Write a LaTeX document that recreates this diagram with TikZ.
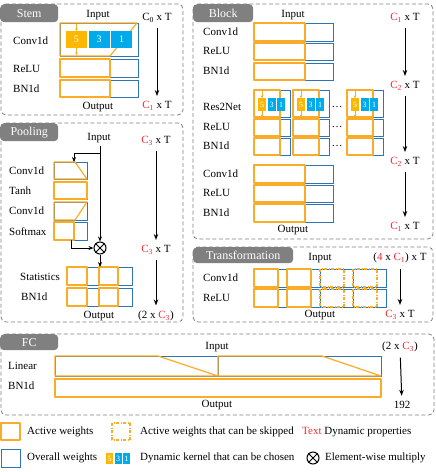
\documentclass[tikz,border=0pt]{standalone}
\usepackage{fontspec}
\setmainfont{Liberation Serif}
\usepackage{tikz}
\usetikzlibrary{positioning,arrows.meta}
\definecolor{actorange}{RGB}{250,172,40}
\definecolor{kgold}{RGB}{252,184,0}
\definecolor{ovrblue}{RGB}{46,117,182}
\definecolor{kblue}{RGB}{0,170,235}
\definecolor{tabgray}{RGB}{128,128,128}
\definecolor{dynred}{RGB}{240,40,50}
\newcommand{\dyn}[1]{\textcolor{dynred}{#1}}
\newcommand{\Cd}[1]{\dyn{C\textsubscript{#1}}}
\newcommand{\wrow}[5]{\draw[ovr] (#1,#2) rectangle (#4,#5); \draw[act] (#1,#2) rectangle (#3,#5);}
\newcommand{\srow}[5]{\draw[ovr] (#1,#2) rectangle (#4,#5); \draw[skip] (#1,#2) rectangle (#3,#5);}
\newcommand{\kset}[6]{%
\node[kbox,fill=kgold,minimum width=#4,minimum height=#5,font=#6,anchor=north west] (#1-5) at (#2,#3) {5};
\node[kbox,fill=kblue,minimum width=#4,minimum height=#5,font=#6,right=1.5pt of #1-5] (#1-3) {3};
\node[kbox,fill=kblue,minimum width=#4,minimum height=#5,font=#6,right=1.5pt of #1-3] (#1-1) {1};}

\begin{document}
\begin{tikzpicture}[x=1pt,y=-1pt,font=\fontsize{11}{13}\selectfont,
panel/.style={draw=tabgray,line width=0.8pt,dash pattern=on 4pt off 2.5pt,rounded corners=5pt},
tab/.style={fill=tabgray,rounded corners=4pt,text=white,inner sep=0pt,anchor=north west,font=\fontsize{12}{12}\selectfont},
lbl/.style={anchor=west,inner sep=0pt},
act/.style={draw=actorange,line width=1.2pt,line join=round},
skip/.style={act,dash pattern=on 3pt off 1.5pt on 1pt off 1.5pt},
ovr/.style={draw=ovrblue,line width=1pt},
kbox/.style={inner sep=0pt,outer sep=0pt,text=white},
karr/.style={draw=actorange,line width=0.8pt,-{Stealth[length=2.5pt,width=2.5pt]}},
dim/.style={line width=1pt,-{Stealth[length=6pt,width=4.5pt]},shorten <=2pt,shorten >=2pt},
flow/.style={line width=0.9pt,-{Stealth[length=5pt,width=4pt]}},
otimes/.style={draw,circle,line width=1pt,minimum size=12pt,inner sep=0pt}]
\useasboundingbox (0,0) rectangle (436,472);

% Stem
\draw[panel] (1,4) rectangle (183,115);
\node[tab,minimum width=58pt,minimum height=18pt] (stemtab) at (0,4) {Stem};
\node (stemin) at (98,15) {Input};
\node (stemout) at (98,107) {Output};
\node[lbl] (stemconv) at (13,41) {Conv1d};
\node[lbl] (stemrelu) at (13,69) {ReLU};
\node[lbl] (stembn) at (13,89) {BN1d};
\draw[ovr] (60,23) rectangle (138,56);
\draw[act] (60,23) -- (137,23) -- (110,56) -- (60,56) -- cycle;
\kset{sk}{66}{31}{21pt}{17pt}{\fontsize{10}{10}\selectfont}
\coordinate (sktop) at (76.5,24);
\coordinate (skbot) at (76.5,55);
\draw[karr] (sktop) -- (sk-5);
\draw[karr] (sk-5) -- (skbot);
\wrow{60}{59}{110}{138}{77}
\wrow{60}{80}{110}{138}{97}
\node (stemc0) at (157,18) {C\textsubscript{0} x T};
\node (stemc1) at (157,106) {\Cd{1} x T};
\draw[dim] (stemc0) -- (stemc1);

% Block
\draw[panel] (193,4) rectangle (433,239);
\node[tab,minimum width=60pt,minimum height=18pt] (blocktab) at (193,4) {Block};
\node (blockin) at (293,15) {Input};
\node (blockout) at (293,230) {Output};
\node[lbl] (bconva) at (203,32) {Conv1d};
\node[lbl] (brelua) at (203,51) {ReLU};
\node[lbl] (bbna) at (203,71) {BN1d};
\node[lbl] (bres) at (203,107) {Res2Net};
\node[lbl] (breslu) at (203,127) {ReLU};
\node[lbl] (bresbn) at (203,146) {BN1d};
\node[lbl] (bconvb) at (203,174) {Conv1d};
\node[lbl] (brelub) at (203,193) {ReLU};
\node[lbl] (bbnb) at (203,213) {BN1d};
\wrow{254}{23}{305}{333}{41}
\wrow{254}{43}{305}{333}{60}
\wrow{254}{63}{305}{333}{80}
\foreach \gx/\gn in {254/ra,293/rb,347/rc}{
\wrow{\gx}{90}{\gx+26}{\gx+36}{117}
\wrow{\gx}{119}{\gx+26}{\gx+36}{136}
\wrow{\gx}{138}{\gx+26}{\gx+36}{155}
\kset{\gn}{\gx+4}{98}{8pt}{13pt}{\fontsize{8}{8}\selectfont}
\coordinate (\gn t) at (\gx+8,91);
\coordinate (\gn b) at (\gx+8,117);
\draw[karr] (\gn t) -- (\gn-5);
\draw[karr] (\gn-5) -- (\gn b);
}
\foreach \dy/\dn in {107/da,127/db,146/dc}
\node (\dn) at (337,\dy) {\dots};
\wrow{254}{165}{305}{333}{183}
\wrow{254}{185}{305}{333}{202}
\wrow{254}{204}{305}{333}{222}
\node (bc1a) at (405,18) {\Cd{1} x T};
\node (bc2a) at (405,86) {\Cd{2} x T};
\node (bc2b) at (405,162) {\Cd{2} x T};
\node (bc1b) at (405,227) {\Cd{1} x T};
\draw[dim] (bc1a) -- (bc2a);
\draw[dim] (bc2a) -- (bc2b);
\draw[dim] (bc2b) -- (bc1b);

% Pooling
\draw[panel] (1,123) rectangle (183,322);
\node[tab,minimum width=58pt,minimum height=18pt] (pooltab) at (0,123) {Pooling};
\node (poolin) at (99,138) {Input};
\node (poolout) at (99,316) {Output};
\node[lbl] (pconva) at (9,171) {Conv1d};
\node[lbl] (ptanh) at (9,191) {Tanh};
\node[lbl] (pconvb) at (9,211) {Conv1d};
\node[lbl] (psoft) at (9,232) {Softmax};
\node[lbl] (pstat) at (20,277) {Statistics};
\node[lbl] (pbn) at (21,297) {BN1d};
\draw[ovr] (54,162) rectangle (87,179);
\draw[act] (54,162) -- (75,162) -- (87,179) -- (54,179) -- cycle;
\wrow{54}{182}{87}{87}{199}
\draw[ovr] (54,202) rectangle (87,220);
\draw[act] (54,202) -- (87,202) -- (75,220) -- (54,220) -- cycle;
\wrow{54}{222}{74}{87}{240}
\wrow{67}{267}{87}{99}{285}
\wrow{99}{267}{118}{132}{285}
\wrow{67}{288}{87}{99}{306}
\wrow{99}{288}{118}{132}{306}
\node[otimes] (ot) at (100,248) {};
\draw[line width=0.9pt] (ot.north west) -- (ot.south east) (ot.north east) -- (ot.south west);
\coordinate (pbr) at (100,153);
\coordinate (pc1) at (74,162);
\coordinate (psm) at (71,240);
\coordinate (pst) at (100,267);
\draw[flow] (ot.north |- poolin.south) -- (ot.north);
\draw[flow] (pbr) -| (pc1);
\draw[flow] (psm) |- (ot.west);
\draw[flow] (ot.south) -- (pst);
\node (pc3a) at (156,141) {\Cd{3} x T};
\node (pc3b) at (156,250) {\Cd{3} x T};
\node (pc23) at (156,316) {(2 x \Cd{3})};
\draw[dim] (pc3a) -- (pc3b);
\draw[dim] (pc3b) -- (pc23);

% Transformation
\draw[panel] (193,247) rectangle (433,322);
\node[tab,minimum width=100pt,minimum height=16pt] (transtab) at (193,247) {Transformation};
\node (transin) at (320,258) {Input};
\node (transout) at (320,315) {Output};
\node[lbl] (tconv) at (203,278) {Conv1d};
\node[lbl] (trelu) at (203,298) {ReLU};
\foreach \tx in {254,287}{
\wrow{\tx}{269}{\tx+24}{\tx+33}{287}
\wrow{\tx}{289}{\tx+24}{\tx+33}{307}
}
\foreach \tx in {320,353}{
\srow{\tx}{269}{\tx+24}{\tx+33}{287}
\srow{\tx}{289}{\tx+24}{\tx+33}{307}
}
\node (tdin) at (400,258) {(\dyn{4} x \Cd{1}) x T};
\node (tdout) at (400,315) {\Cd{3} x T};
\draw[dim] (tdin) -- (tdout);

% FC
\draw[panel] (1,334) rectangle (434,415);
\node[tab,minimum width=58pt,minimum height=16pt] (fctab) at (0,334) {FC};
\node (fcin) at (217,347) {Input};
\node (fcout) at (217,405) {Output};
\node[lbl] (flin) at (8,366) {Linear};
\node[lbl] (fbn) at (8,386) {BN1d};
\draw[ovr] (55,356) rectangle (218,376);
\draw[ovr] (218,356) rectangle (381,376);
\draw[act] (55,356) -- (158,356) -- (218,376) -- (55,376) -- cycle;
\draw[act] (218,356) -- (322,356) -- (381,376) -- (218,376) -- cycle;
\draw[act] (55,379) rectangle (381,397);
\node (fdin) at (400,347) {(2 x \Cd{3})};
\node (fdout) at (402,405) {192};
\draw[dim] (fdin) -- (fdout);

% legend
\draw[act] (1,423) rectangle (20,440);
\node[lbl] (lgact) at (27,432) {Active weights};
\draw[skip] (112,423) rectangle (130,440);
\node[lbl] (lgskip) at (140,432) {Active weights that can be skipped};
\node[lbl] (lgdyn) at (302,432) {\dyn{Text} Dynamic properties};
\draw[ovr] (1,449) rectangle (20,467);
\node[lbl] (lgovr) at (27,458) {Overall weights};
\kset{lk}{106}{453}{7pt}{11pt}{\fontsize{8}{8}\selectfont}
\node[lbl] (lgker) at (140,458) {Dynamic kernel that can be chosen};
\node[otimes] (lgot) at (313,458) {};
\draw[line width=0.9pt] (lgot.north west) -- (lgot.south east) (lgot.north east) -- (lgot.south west);
\node[lbl] (lgmul) at (325,458) {Element-wise multiply};
\end{tikzpicture}
\end{document}
